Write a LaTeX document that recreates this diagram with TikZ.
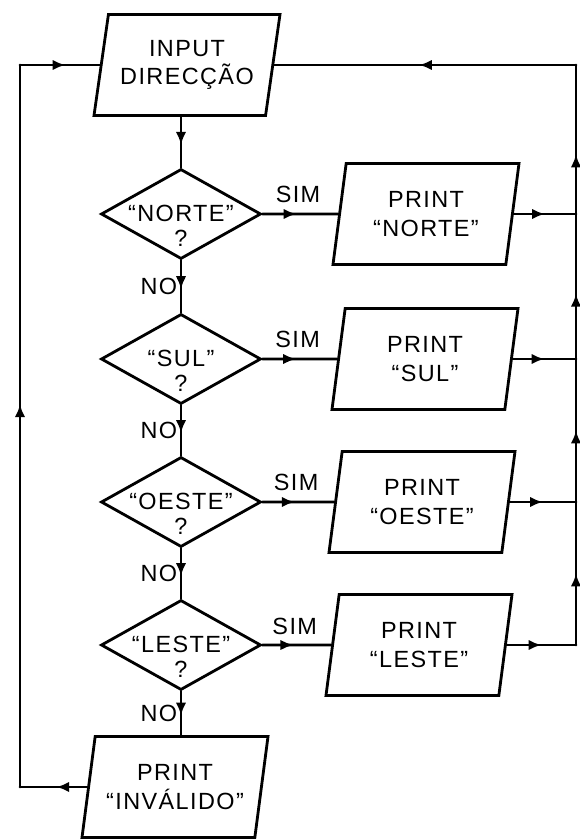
\documentclass[tikz,border=0pt]{standalone}
\usepackage{fontspec}
\newfontfamily\lett[LetterSpace=6]{Liberation Sans}
\usetikzlibrary{shapes.geometric,arrows.meta,decorations.markings}
\tikzset{
  line/.style={line width=2.4pt, line cap=round, line join=round},
  io/.style={trapezium, trapezium left angle=75, trapezium right angle=105,
    trapezium stretches body, draw, line width=2.4pt, minimum width=5.58cm,
    minimum height=3.03cm, align=center, inner sep=2pt,
    font={\lett\fontsize{20}{24}\selectfont}},
  dec/.style={diamond, draw, line width=2.4pt, minimum width=4.8cm,
    minimum height=2.7cm, inner sep=0pt},
  lab/.style={font={\lett\fontsize{20}{22}\selectfont}, inner sep=1pt},
  midarrow/.style={postaction={decorate}, decoration={markings,
    mark=at position #1 with {\arrow{Latex[length=11pt,width=9pt]}}}},
}
\begin{document}
\begin{tikzpicture}[x=0.03cm, y=-0.03cm]
\useasboundingbox (0,0) rectangle (579,839);
% nodes
\node[io] (in) at (187,65) {INPUT\\DIRECÇÃO};
\node[dec, label={[lab,align=center,yshift=-10pt]center:“NORTE”\\?}] (d1) at (181,214) {};
\node[dec, label={[lab,align=center,yshift=-10pt]center:“SUL”\\?}] (d2) at (181,359) {};
\node[dec, label={[lab,align=center,yshift=-10pt]center:“OESTE”\\?}] (d3) at (181,502) {};
\node[dec, label={[lab,align=center,yshift=-10pt]center:“LESTE”\\?}] (d4) at (181,645) {};
\node[io] (p1) at (426,214) {PRINT\\“NORTE”};
\node[io] (p2) at (425,359) {PRINT\\“SUL”};
\node[io] (p3) at (422,502) {PRINT\\“OESTE”};
\node[io] (p4) at (419,645) {PRINT\\“LESTE”};
\node[io] (inv) at (175,787) {PRINT\\“INVÁLIDO”};
% helper coordinates
\coordinate (rx) at (576,0);
\coordinate (lx) at (20,0);
\coordinate (r1) at (rx |- p1.east);
\coordinate (r2) at (rx |- p2.east);
\coordinate (r3) at (rx |- p3.east);
\coordinate (r4) at (rx |- p4.east);
\coordinate (rt) at (rx |- in.east);
\coordinate (lt) at (lx |- in.west);
\coordinate (lb) at (lx |- inv.west);
% main column
\draw[line, midarrow=0.55] (d1.north |- in.south) -- (d1.north);
\draw[line, midarrow=0.55] (d1.south) -- node[lab, left=1pt]{NO} (d2.north);
\draw[line, midarrow=0.55] (d2.south) -- node[lab, left=1pt]{NO} (d3.north);
\draw[line, midarrow=0.55] (d3.south) -- node[lab, left=1pt]{NO} (d4.north);
\draw[line, midarrow=0.55] (d4.south) -- node[lab, left=1pt]{NO} (d4.south |- inv.north);
% SIM branches
\draw[line, midarrow=0.45] (d1.east) -- node[lab, above=7pt, pos=0.47]{SIM} (p1.west);
\draw[line, midarrow=0.45] (d2.east) -- node[lab, above=7pt, pos=0.47]{SIM} (p2.west);
\draw[line, midarrow=0.45] (d3.east) -- node[lab, above=7pt, pos=0.47]{SIM} (p3.west);
\draw[line, midarrow=0.45] (d4.east) -- node[lab, above=7pt, pos=0.47]{SIM} (p4.west);
% outputs to the right return line
\draw[line, midarrow=0.5] (p1.east) -- (r1);
\draw[line, midarrow=0.5] (p2.east) -- (r2);
\draw[line, midarrow=0.5] (p3.east) -- (r3);
\draw[line, midarrow=0.5] (p4.east) -- (r4);
\draw[line, midarrow=0.5] (r4) -- (r3);
\draw[line, midarrow=0.5] (r3) -- (r2);
\draw[line, midarrow=0.45] (r2) -- (r1);
\draw[line, midarrow=0.4] (r1) -- (rt);
\draw[line, midarrow=0.52] (rt) -- (in.east);
% left return line
\draw[line, midarrow=0.46] (inv.west) -- (lb);
\draw[line, midarrow=0.53] (lb) -- (lt);
\draw[line, midarrow=0.57] (lt) -- (in.west);
\end{tikzpicture}
\end{document}
